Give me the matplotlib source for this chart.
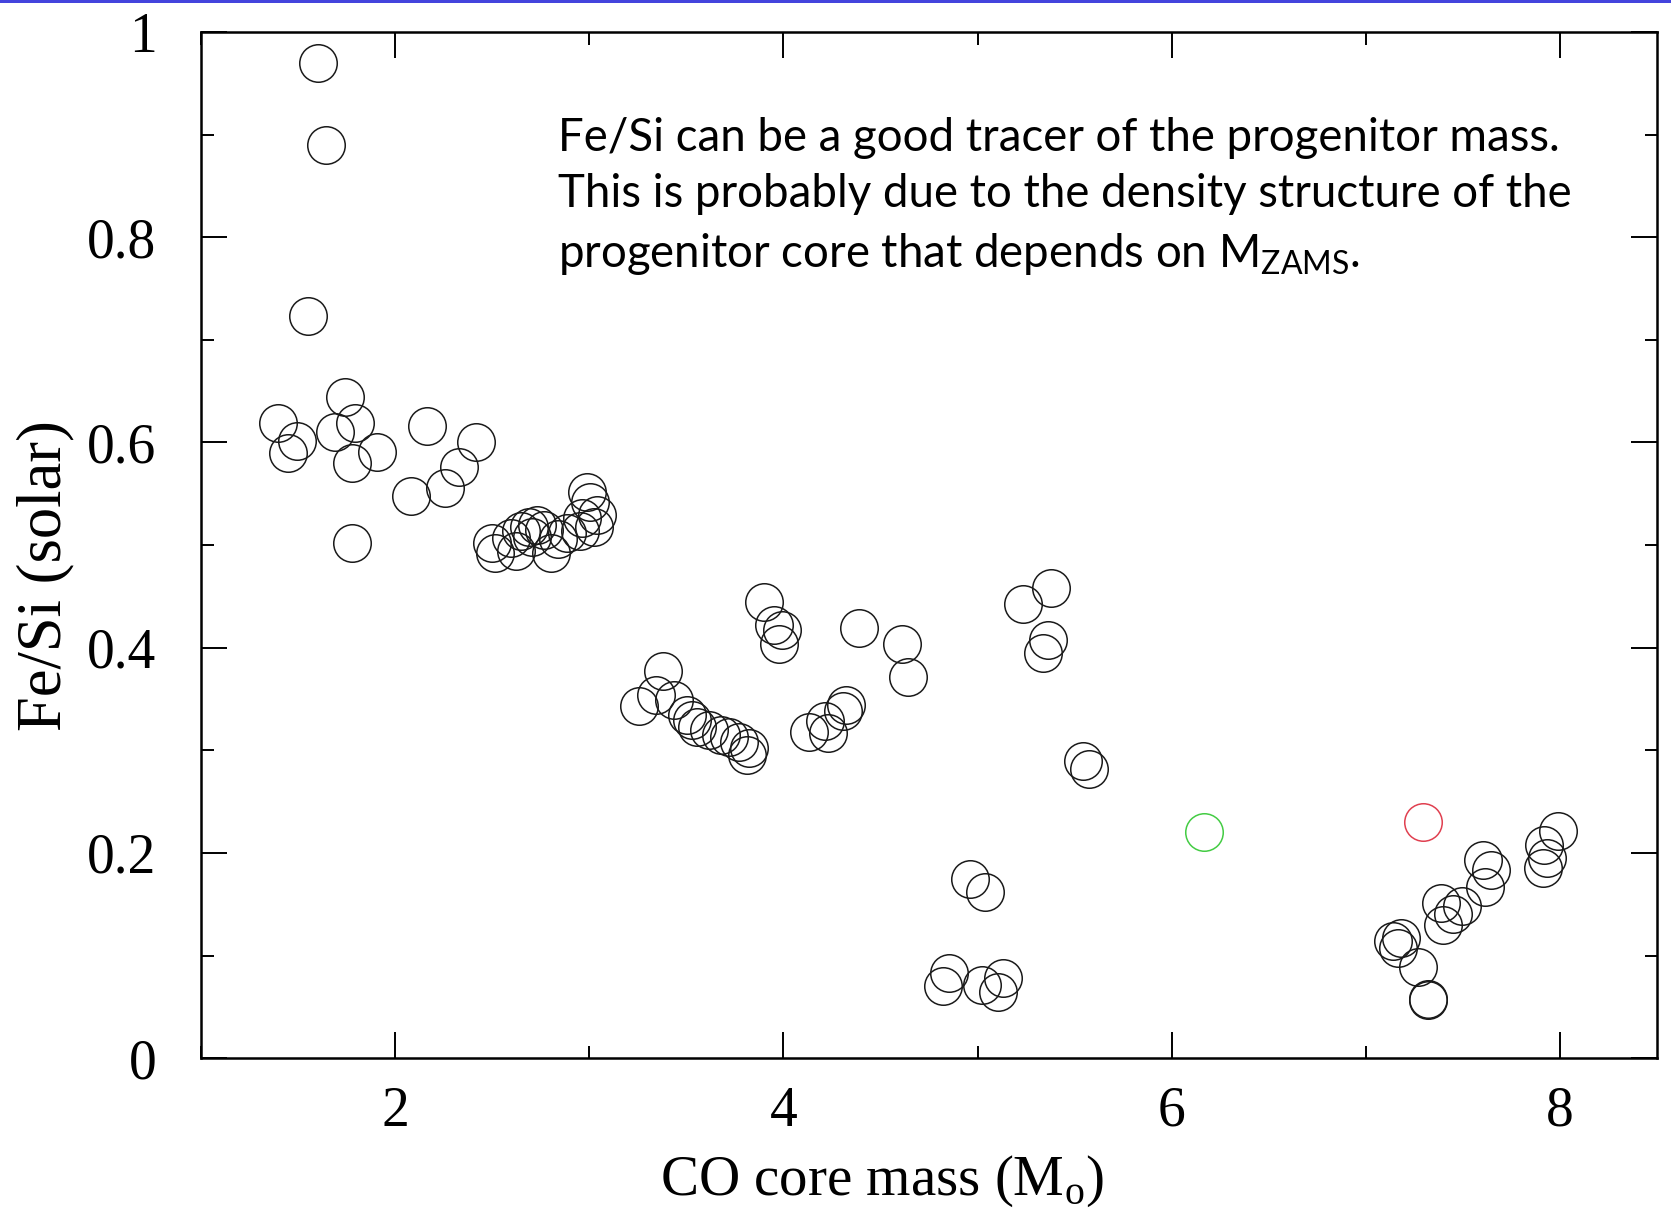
import matplotlib
matplotlib.use("Agg")
import matplotlib.pyplot as plt
from matplotlib.ticker import MultipleLocator, FormatStrFormatter
from matplotlib.patches import Rectangle

# CO core mass (Msun) and Fe/Si (solar)
co_mass = [1.604, 1.643, 1.549, 1.396, 1.740, 1.494, 1.448, 1.689, 1.792, 1.778,
           1.907, 2.164, 2.417, 2.331, 2.256, 2.084, 1.778,
           2.500, 2.516, 2.599, 2.621, 2.648, 2.687, 2.731, 2.769, 2.802, 2.841,
           2.885, 2.951, 2.989, 3.005, 3.038, 3.022, 2.962, 2.703,
           3.380, 3.255, 3.342, 3.436, 3.505, 3.531, 3.557, 3.617, 3.677, 3.720,
           3.771, 3.823, 3.814, 3.900, 3.952, 3.995, 3.978, 4.387, 4.613, 4.644,
           4.132, 4.214, 4.231, 4.308, 4.324,
           5.232, 5.378, 5.361, 5.335, 5.541, 5.574,
           4.961, 5.040, 4.854, 4.820, 5.023, 5.129, 5.103,
           7.991, 7.917, 7.931, 7.913, 7.604, 7.647, 7.613, 7.389, 7.497, 7.449,
           7.397, 7.140, 7.183, 7.166, 7.269, 7.321, 7.322]
fe_si = [0.970, 0.890, 0.723, 0.619, 0.644, 0.601, 0.590, 0.610, 0.619, 0.580,
         0.591, 0.616, 0.600, 0.576, 0.556, 0.548, 0.502,
         0.502, 0.492, 0.507, 0.494, 0.514, 0.518, 0.520, 0.515, 0.492, 0.506,
         0.512, 0.514, 0.552, 0.542, 0.529, 0.518, 0.526, 0.508,
         0.377, 0.343, 0.354, 0.349, 0.334, 0.330, 0.323, 0.320, 0.315, 0.313,
         0.308, 0.302, 0.295, 0.445, 0.422, 0.417, 0.404, 0.419, 0.404, 0.371,
         0.318, 0.329, 0.317, 0.338, 0.344,
         0.443, 0.458, 0.408, 0.395, 0.290, 0.282,
         0.175, 0.162, 0.083, 0.070, 0.071, 0.078, 0.065,
         0.221, 0.208, 0.195, 0.185, 0.193, 0.183, 0.167, 0.151, 0.148, 0.141,
         0.130, 0.114, 0.117, 0.107, 0.089, 0.058, 0.057]

green_mass, green_fesi = [6.165], [0.220]
red_mass, red_fesi = [7.297], [0.230]

note = ("Fe/Si can be a good tracer of the progenitor mass.\n"
        "This is probably due to the density structure of the\n"
        "progenitor core that depends on M$_\\mathregular{ZAMS}$.")

plt.rcParams['font.family'] = 'Liberation Serif'

fig = plt.figure(figsize=(16.71, 12.08), dpi=100)
ax = fig.add_axes([0.1203, 0.124, 0.8713, 0.8495])

mk = dict(linestyle='none', marker='o', markersize=27, markerfacecolor='none',
          markeredgewidth=1.1)
ax.plot(co_mass, fe_si, markeredgecolor='#1a1a1a', **mk)
ax.plot(green_mass, green_fesi, markeredgecolor='#44cc44', **mk)
ax.plot(red_mass, red_fesi, markeredgecolor='#e04050', **mk)

ax.set_xlim(1, 8.5)
ax.set_ylim(0, 1)
ax.xaxis.set_major_locator(MultipleLocator(2))
ax.xaxis.set_minor_locator(MultipleLocator(1))
ax.yaxis.set_major_locator(MultipleLocator(0.2))
ax.yaxis.set_minor_locator(MultipleLocator(0.1))
ax.yaxis.set_major_formatter(FormatStrFormatter('%g'))

ax.tick_params(which='both', direction='in', top=True, right=True, width=1.4)
ax.tick_params(which='major', length=19, labelsize=40)
ax.tick_params(axis='x', which='major', pad=20)
ax.tick_params(axis='y', which='major', pad=32)
ax.tick_params(which='minor', length=9)
for s in ax.spines.values():
    s.set_linewidth(1.8)

ax.set_xlabel('CO core mass (M$_\\mathregular{o}$)', fontsize=41)
ax.xaxis.set_label_coords(0.468, -0.093)
ax.set_ylabel('Fe/Si (solar)', fontsize=45)
ax.yaxis.set_label_coords(-0.087, 0.47)

ax.text(0.2455, 0.917, note, transform=ax.transAxes, family='Lato', fontsize=32.9,
        va='top', ha='left', linespacing=1.42)

# blue border line along the top edge
fig.add_artist(Rectangle((0, 0.9975), 1, 0.0025, transform=fig.transFigure,
                         color='#4444dd', lw=0))

fig.savefig('out.png', dpi=100)
